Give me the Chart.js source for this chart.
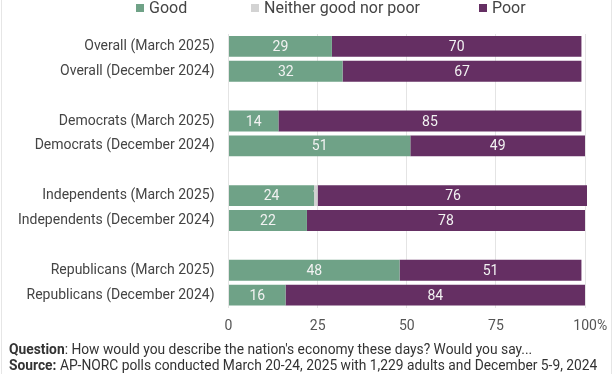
<!DOCTYPE html>
<html>
<head>
<meta charset="utf-8">
<script src="https://cdn.jsdelivr.net/npm/chart.js@4/dist/chart.umd.min.js"></script>
<style>
  html, body { margin: 0; padding: 0; background: #fff; }
  #wrap { position: relative; width: 612px; height: 374px; overflow: hidden; font-family: Roboto, "Noto Sans", sans-serif; }
  #wrap:before { content: ""; position: absolute; left: 1px; top: 0; bottom: 0; width: 1px; background: #e6e6e6; }
  #wrap:after { content: ""; position: absolute; right: 0; top: 0; bottom: 0; width: 1px; background: #e6e6e6; }
  canvas { position: absolute; left: 0; top: 0; }
  .leg { position: absolute; top: 0; height: 16px; line-height: 16px; font-size: 16px; color: #444; white-space: nowrap; }
  .leg i { display: inline-block; width: 8px; height: 8px; margin-right: 5px; vertical-align: 1px; }
  .foot { position: absolute; left: 9px; font-size: 13.8px; color: #333; white-space: nowrap; line-height: 16px; }
</style>
</head>
<body>
<div id="wrap">
  <canvas id="c" width="612" height="374"></canvas>
  <div class="leg" id="lg0" style="left:136px"></div>
  <div class="leg" id="lg1" style="left:251px"></div>
  <div class="leg" id="lg2" style="left:479px"></div>
  <div class="foot" style="top:341px"><b>Question</b>: How would you describe the nation's economy these days? Would you say...</div>
  <div class="foot" style="top:357px"><b>Source:</b> AP-NORC polls conducted March 20-24, 2025 with 1,229 adults and December 5-9, 2024</div>
</div>
<script>
const categories = [
  "Overall (March 2025)", "Overall (December 2024)", "",
  "Democrats (March 2025)", "Democrats (December 2024)", "",
  "Independents (March 2025)", "Independents (December 2024)", "",
  "Republicans (March 2025)", "Republicans (December 2024)"
];
const seriesNames = ["Good", "Neither good nor poor", "Poor"];
const goodValues    = [29, 32, null, 14, 51, null, 24, 22, null, 48, 16];
const neitherValues = [0, 0, null, 0, 0, null, 1, 0, null, 0, 0];
const poorValues    = [70, 67, null, 85, 49, null, 76, 78, null, 51, 84];
const xTickValues = [0, 25, 50, 75, 100];
const xTickLabels = ["0", "25", "50", "75", "   100%"];
const colors = ["#6fa287", "#d3d3d3", "#652f63"];

seriesNames.forEach((n, i) => {
  document.getElementById("lg" + i).innerHTML = '<i style="background:' + colors[i] + '"></i>' + n;
});

const labelPlugin = {
  id: "segLabels",
  afterDatasetsDraw(chart) {
    const ctx = chart.ctx;
    ctx.save();
    ctx.font = "14px Roboto";
    ctx.textAlign = "center";
    ctx.textBaseline = "middle";
    chart.data.datasets.forEach((ds, di) => {
      const meta = chart.getDatasetMeta(di);
      ctx.fillStyle = di === 1 ? "#cfcfcf" : "#f2f2f2";
      meta.data.forEach((el, i) => {
        const v = ds.data[i];
        if (v === null || v === 0) return;
        const p = el.getProps(["x", "y", "base"], true);
        ctx.fillText(String(v), (p.x + p.base) / 2, p.y + 1);
      });
    });
    ctx.restore();
  }
};

new Chart(document.getElementById("c"), {
  type: "bar",
  data: {
    labels: categories,
    datasets: [
      { label: seriesNames[0], data: goodValues, backgroundColor: colors[0] },
      { label: seriesNames[1], data: neitherValues, backgroundColor: colors[1] },
      { label: seriesNames[2], data: poorValues, backgroundColor: colors[2] }
    ]
  },
  options: {
    indexAxis: "y",
    responsive: false,
    animation: false,
    devicePixelRatio: 1,
    layout: { padding: { top: 34, right: 27, left: 0, bottom: 0 } },
    datasets: { bar: { barPercentage: 0.84, categoryPercentage: 1, borderWidth: 0, clip: { left: 0, top: false, right: 2, bottom: false } } },
    plugins: { legend: { display: false }, tooltip: { enabled: false } },
    scales: {
      x: {
        stacked: true,
        min: 0, max: 100,
        afterBuildTicks(scale) { scale.ticks = xTickValues.map(v => ({ value: v })); },
        afterFit(scale) { scale.height = 66.5; scale.paddingLeft = 0; scale.paddingRight = 0; },
        border: { display: false },
        grid: { color: "#e4e4e4", drawTicks: false, lineWidth: 1 },
        ticks: {
          padding: 11,
          color: "#555",
          font: { family: "Roboto", size: 14 },
          maxRotation: 0,
          autoSkip: false,
          callback: (v) => xTickLabels[xTickValues.indexOf(v)]
        }
      },
      y: {
        stacked: true,
        afterFit(scale) { scale.width = 228.5; scale.paddingTop = 0; scale.paddingBottom = 0; },
        border: { display: false },
        grid: { display: false, drawTicks: false },
        ticks: {
          padding: 14,
          color: "#444",
          font: { family: "Roboto", size: 14 },
          autoSkip: false
        }
      }
    }
  },
  plugins: [labelPlugin]
});
</script>
</body>
</html>
